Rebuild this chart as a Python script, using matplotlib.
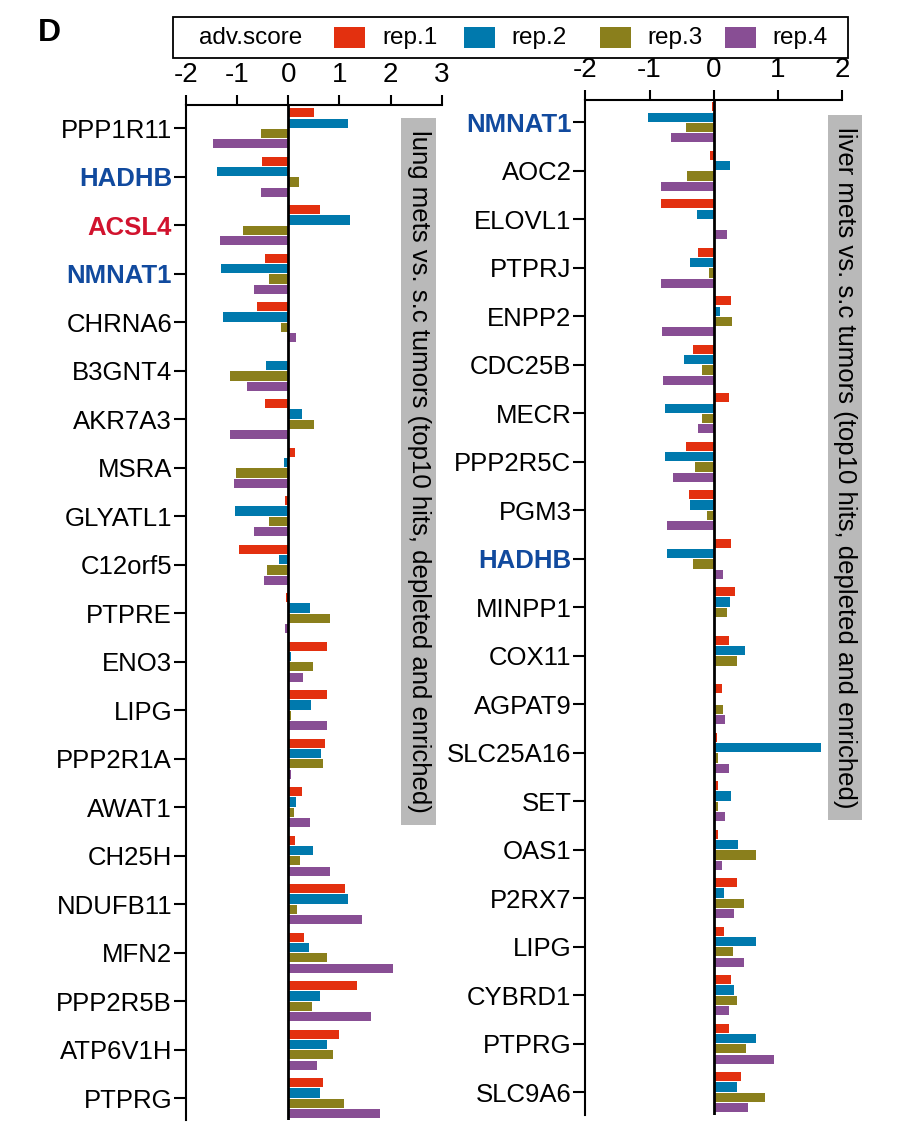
import matplotlib
matplotlib.use("Agg")
import matplotlib.pyplot as plt
from matplotlib.patches import Rectangle

plt.rcParams['font.family'] = ['Liberation Sans', 'DejaVu Sans']

# ---------------- data ----------------
lung_genes = ["PPP1R11", "HADHB", "ACSL4", "NMNAT1", "CHRNA6", "B3GNT4", "AKR7A3",
              "MSRA", "GLYATL1", "C12orf5", "PTPRE", "ENO3", "LIPG", "PPP2R1A",
              "AWAT1", "CH25H", "NDUFB11", "MFN2", "PPP2R5B", "ATP6V1H", "PTPRG"]
lung_rep1 = [0.51, -0.52, 0.63, -0.45, -0.62, 0.0, -0.46, 0.13, -0.07, -0.96, -0.04,
             0.76, 0.76, 0.72, 0.27, 0.14, 1.11, 0.31, 1.34, 1.00, 0.68]
lung_rep2 = [1.16, -1.39, 1.21, -1.32, -1.28, -0.43, 0.27, -0.08, -1.04, -0.19, 0.42,
             0.05, 0.44, 0.64, 0.16, 0.48, 1.16, 0.40, 0.62, 0.76, 0.62]
lung_rep3 = [-0.54, 0.20, -0.89, -0.38, -0.14, -1.14, 0.50, -1.02, -0.38, -0.42, 0.81,
             0.49, 0.06, 0.68, 0.12, 0.23, 0.17, 0.76, 0.46, 0.87, 1.09]
lung_rep4 = [-1.47, -0.54, -1.33, -0.68, 0.16, -0.80, -1.13, -1.06, -0.68, -0.47, -0.07,
             0.29, 0.76, 0.06, 0.42, 0.81, 1.45, 2.05, 1.62, 0.56, 1.79]

liver_genes = ["NMNAT1", "AOC2", "ELOVL1", "PTPRJ", "ENPP2", "CDC25B", "MECR",
               "PPP2R5C", "PGM3", "HADHB", "MINPP1", "COX11", "AGPAT9", "SLC25A16",
               "SET", "OAS1", "P2RX7", "LIPG", "CYBRD1", "PTPRG", "SLC9A6"]
liver_rep1 = [-0.03, -0.06, -0.82, -0.25, 0.26, -0.32, 0.24, -0.44, -0.39, 0.27, 0.33,
              0.24, 0.12, 0.05, 0.06, 0.07, 0.36, 0.16, 0.27, 0.24, 0.43]
liver_rep2 = [-1.02, 0.25, -0.26, -0.37, 0.10, -0.47, -0.76, -0.76, -0.37, -0.73, 0.25,
              0.48, 0.0, 1.67, 0.26, 0.37, 0.16, 0.65, 0.32, 0.65, 0.36]
liver_rep3 = [-0.43, -0.42, 0.0, -0.07, 0.28, -0.18, -0.18, -0.29, -0.10, -0.32, 0.20,
              0.36, 0.14, 0.07, 0.06, 0.66, 0.47, 0.30, 0.36, 0.50, 0.80]
liver_rep4 = [-0.67, -0.82, 0.20, -0.82, -0.80, -0.79, -0.25, -0.63, -0.73, 0.15, 0.0,
              0.0, 0.18, 0.24, 0.18, 0.13, 0.31, 0.47, 0.23, 0.94, 0.54]

rep_labels = ["rep.1", "rep.2", "rep.3", "rep.4"]
lung_xticks = [-2, -1, 0, 1, 2, 3]
liver_xticks = [-2, -1, 0, 1, 2]

# ---------------- style ----------------
colors = ["#E3300F", "#0079AD", "#8A7F1C", "#884E94"]
blue_lab = "#114A9E"
red_lab = "#D1132E"
label_colors = {"HADHB": blue_lab, "NMNAT1": blue_lab, "ACSL4": red_lab}

W, H = 914, 1132
fig = plt.figure(figsize=(W / 100, H / 100), dpi=100)


def px_axes(x0, x1, ytop, ybot):
    return fig.add_axes([x0 / W, 1 - ybot / H, (x1 - x0) / W, (ybot - ytop) / H])


def draw_panel(ax, genes, reps, xlim, xticks, ylim):
    n = len(genes)
    pitch = 0.213
    h = 0.19
    offs = [-1.5 * pitch, -0.5 * pitch, 0.5 * pitch, 1.5 * pitch]
    for k, vals in enumerate(reps):
        ax.barh([i + offs[k] for i in range(n)], vals, height=h, color=colors[k],
                edgecolor='none', zorder=2)
    ax.axvline(0, color='black', lw=2.0, zorder=3)
    ax.set_xlim(*xlim)
    ax.set_ylim(*ylim)
    ax.xaxis.tick_top()
    ax.set_xticks(xticks)
    ax.set_xticklabels([str(t) for t in xticks], fontsize=20)
    ax.tick_params(axis='x', length=7, width=1.5, pad=5)
    ax.set_yticks(range(n))
    ax.set_yticklabels(genes, fontsize=18.5)
    ax.tick_params(axis='y', length=9, width=1.5, pad=1)
    for lab in ax.get_yticklabels():
        t = lab.get_text()
        if t in label_colors:
            lab.set_color(label_colors[t])
            lab.set_fontweight('bold')
    for s in ['right', 'bottom']:
        ax.spines[s].set_visible(False)
    for s in ['left', 'top']:
        ax.spines[s].set_linewidth(1.5)


axL = px_axes(186, 441.7, 105, 1120)
draw_panel(axL, lung_genes, [lung_rep1, lung_rep2, lung_rep3, lung_rep4],
           (-2, 3), lung_xticks, (20.45, -0.48))

axR = px_axes(585.3, 842.3, 100, 1115)
draw_panel(axR, liver_genes, [liver_rep1, liver_rep2, liver_rep3, liver_rep4],
           (-2, 2), liver_xticks, (20.47, -0.46))


def side_label(x0, x1, ytop, ybot, text):
    fig.patches.append(Rectangle((x0 / W, 1 - ybot / H), (x1 - x0) / W, (ybot - ytop) / H,
                                 transform=fig.transFigure, facecolor="#B9B9B9",
                                 edgecolor='none', zorder=5))
    fig.text((x0 + x1) / 2 / W, 1 - (ytop + ybot) / 2 / H, text, rotation=-90,
             ha='center', va='center', fontsize=18.5, color='black', zorder=6)


side_label(401, 436, 118, 825, "lung mets vs. s.c tumors (top10 hits, depleted and enriched)")
side_label(828, 862, 115, 820, "liver mets vs. s.c tumors (top10 hits, depleted and enriched)")

# legend box
fig.patches.append(Rectangle((173 / W, 1 - 58 / H), (848 - 173) / W, 41 / H,
                             transform=fig.transFigure, facecolor='white',
                             edgecolor='black', lw=1.3, zorder=5))
ymid = 1 - 38 / H
fig.text(199 / W, ymid, "adv.score", fontsize=17.5, ha='left', va='center', zorder=6)
patch_x = [334, 464, 600, 725]
text_x = [382, 511, 647, 772]
for k in range(4):
    fig.patches.append(Rectangle((patch_x[k] / W, 1 - 48 / H), 31 / W, 21 / H,
                                 transform=fig.transFigure, facecolor=colors[k],
                                 edgecolor='none', zorder=6))
    fig.text(text_x[k] / W, ymid, rep_labels[k], fontsize=17.5, ha='left',
             va='center', zorder=6)

fig.text(38 / W, 1 - 41 / H, "D", fontsize=23, fontweight='bold', ha='left',
         va='baseline')

fig.savefig("out.png", dpi=100)
